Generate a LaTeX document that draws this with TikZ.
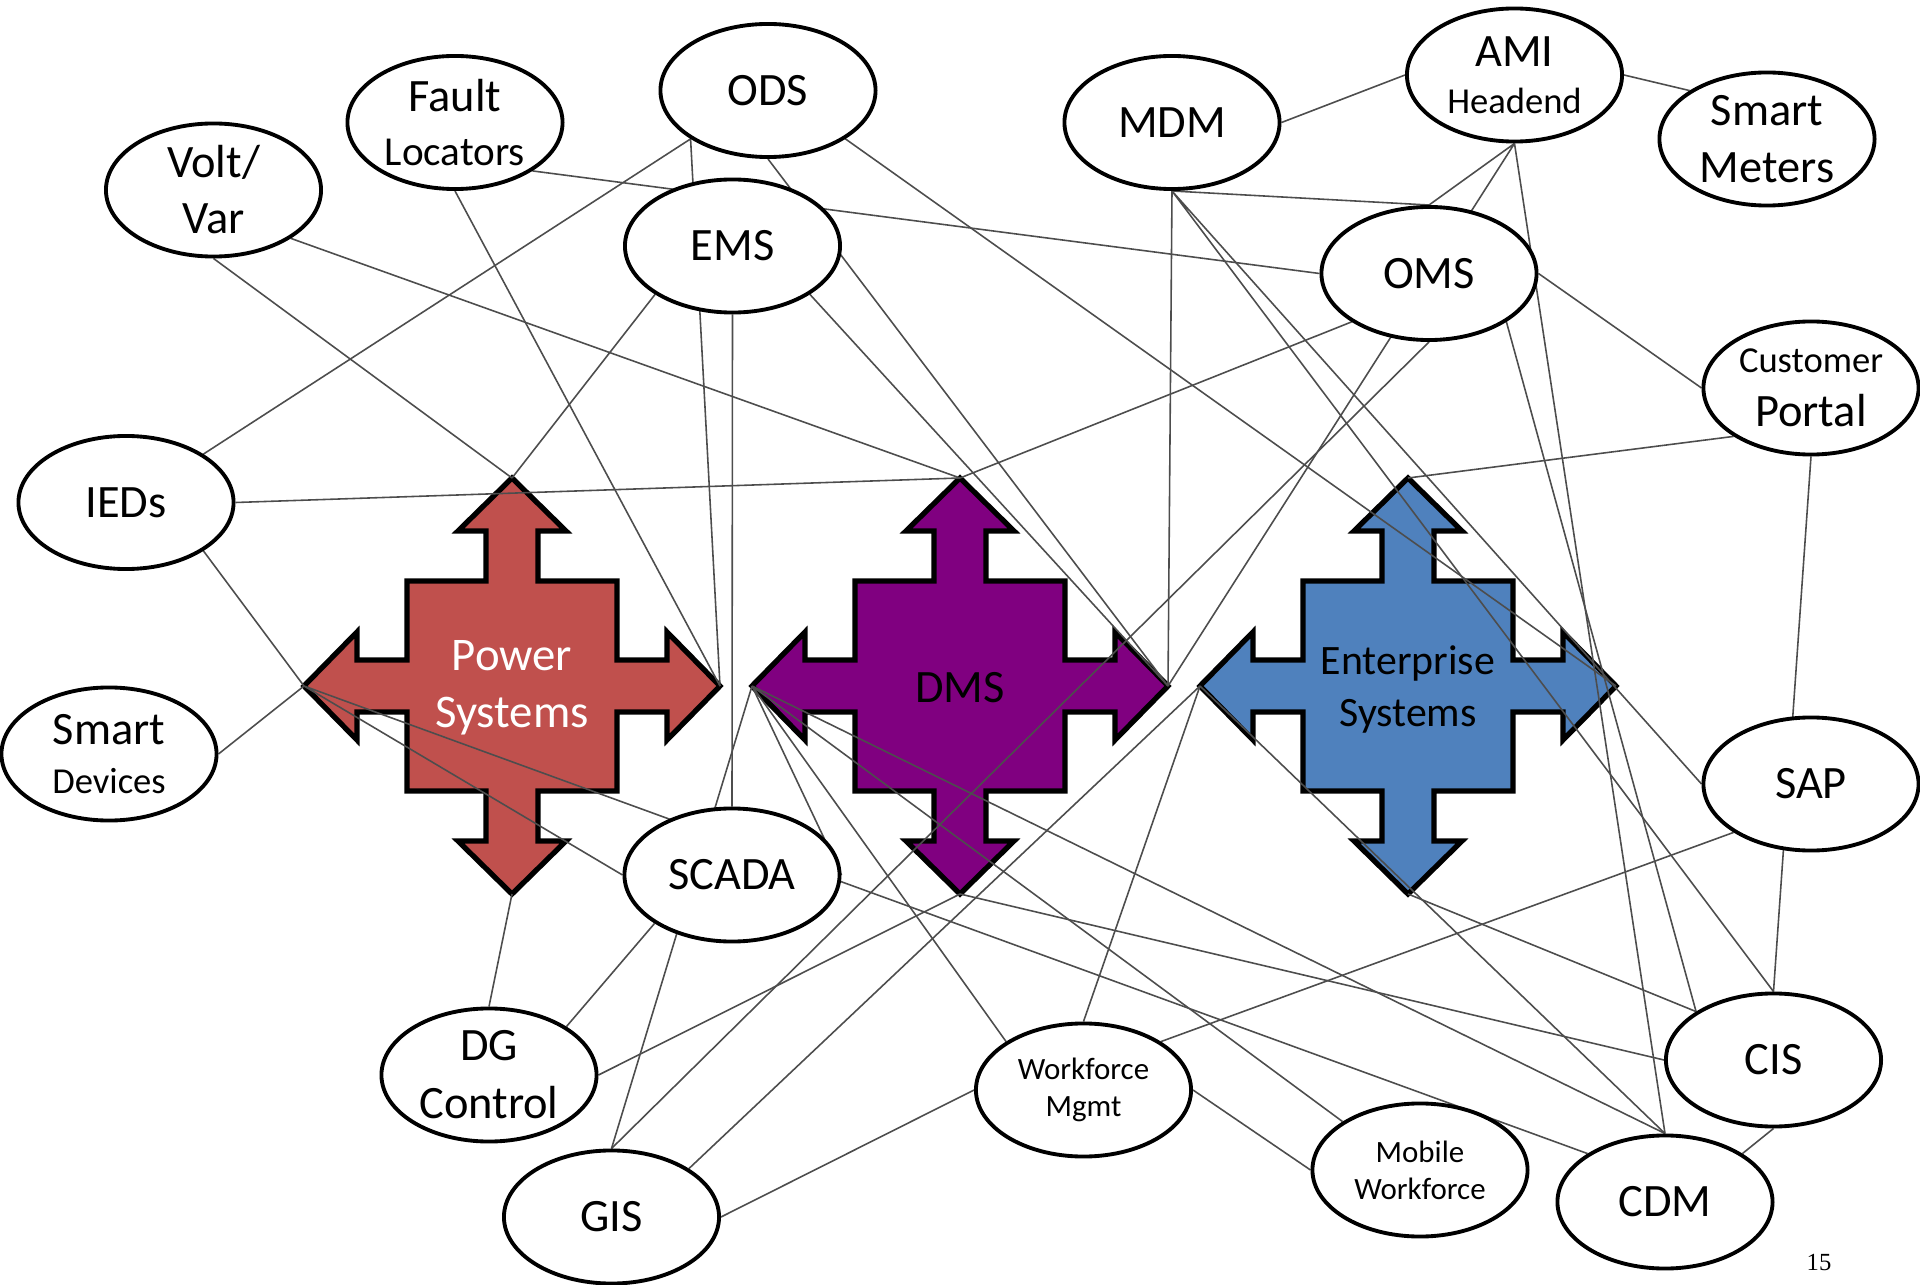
\documentclass[tikz,border=0pt]{standalone}
\usepackage{fontspec}
\setmainfont{Carlito}
\newfontfamily\pagenumfont{Liberation Serif}
\usetikzlibrary{shapes.geometric}

\definecolor{psred}{RGB}{192,80,77}
\definecolor{dmspurple}{RGB}{128,0,128}
\definecolor{esblue}{RGB}{79,129,189}
\definecolor{linkgray}{RGB}{77,77,77}

\pgfdeclarelayer{crosslayer}
\pgfdeclarelayer{linklayer}
\pgfsetlayers{crosslayer,linklayer,main}

\tikzset{
  sysnode/.style={ellipse, draw=black, line width=1.1pt, fill=white,
    minimum width=2.15cm, minimum height=1.33cm, inner sep=0pt, align=center,
    font=\fontsize{13.2}{16}\selectfont},
  twoline/.style={font=\fontsize{13.2}{#1}\selectfont},
  link/.style={draw=linkgray, line width=0.45pt},
  crossline/.style={draw=black, line width=1.5pt, line join=miter},
  crosslabel/.style={align=center, inner sep=0pt}
}

% 十字の矢印 (中心, 名前, 色)
\newcommand{\sysarrow}[3]{%
  \begin{scope}[shift={(#1)}]
    \draw[crossline, fill=#3] (0,-208) -- (54,-155) -- (26,-155) -- (26,-105)
      -- (105,-105) -- (105,-26) -- (155,-26) -- (155,-54) -- (208,0)
      -- (155,54) -- (155,26) -- (105,26) -- (105,105) -- (26,105)
      -- (26,155) -- (54,155) -- (0,208) -- (-54,155) -- (-26,155)
      -- (-26,105) -- (-105,105) -- (-105,26) -- (-155,26) -- (-155,54)
      -- (-208,0) -- (-155,-54) -- (-155,-26) -- (-105,-26) -- (-105,-105)
      -- (-26,-105) -- (-26,-155) -- (-54,-155) -- cycle;
    \coordinate (#2-n) at (0,-208);
    \coordinate (#2-s) at (0,208);
    \coordinate (#2-e) at (208,0);
    \coordinate (#2-w) at (-208,0);
  \end{scope}}

\begin{document}
\begin{tikzpicture}[x=0.01cm, y=-0.01cm]
  \useasboundingbox (0,0) rectangle (1920,1285);

  % 楕円のノード
  \node[sysnode, twoline=15.9] (volt) at (213.5,190) {Volt/\\Var};
  \node[sysnode, twoline=15.1] (fault) at (455,122.5) {Fault\\{\fontsize{11.7}{14}\selectfont Locators}};
  \node[sysnode] (ods) at (768,90.5) {ODS};
  \node[sysnode] (ems) at (732.5,246) {EMS};
  \node[sysnode] (mdm) at (1172,122.5) {MDM};
  \node[sysnode, twoline=13.4] (ami) at (1514.5,75) {AMI\\{\fontsize{10.4}{12}\selectfont Headend}};
  \node[sysnode, twoline=16.3] (meters) at (1767,139) {Smart\\Meters};
  \node[sysnode] (oms) at (1429,273.5) {OMS};
  \node[sysnode, twoline=15.5] (portal) at (1811,388) {{\fontsize{10.4}{12}\selectfont Customer}\\Portal};
  \node[sysnode] (ieds) at (126,502.5) {IEDs};
  \node[sysnode, twoline=13.7] (devices) at (109,754) {Smart\\{\fontsize{10.4}{12}\selectfont Devices}};
  \node[sysnode] (sap) at (1811,784) {SAP};
  \node[sysnode] (scada) at (732,875) {SCADA};
  \node[sysnode, twoline=16.5] (dg) at (489,1075) {DG\\Control};
  \node[sysnode] (gis) at (611.5,1217) {GIS};
  \node[sysnode, font=\fontsize{8.8}{10.7}\selectfont] (wfm) at (1083.5,1090) {Workforce\\Mgmt};
  \node[sysnode, font=\fontsize{8.8}{10.5}\selectfont] (mobile) at (1420,1170) {Mobile\\Workforce};
  \node[sysnode] (cdm) at (1665,1202) {CDM};
  \node[sysnode] (cis) at (1773.5,1060) {CIS};

  % 三つの十字
  \begin{pgfonlayer}{crosslayer}
    \sysarrow{512,686}{ps}{psred}
    \sysarrow{960,686}{dms}{dmspurple}
    \sysarrow{1408,686}{es}{esblue}
  \end{pgfonlayer}
  \node[crosslabel, text=white, font=\fontsize{13.3}{16.2}\selectfont] (pslabel) at (512,688) {Power\\Systems};
  \node[crosslabel, font=\fontsize{13.2}{16}\selectfont] (dmslabel) at (960,688) {DMS};
  \node[crosslabel, font=\fontsize{11.9}{14.8}\selectfont] (eslabel) at (1408,689) {Enterprise\\Systems};

  % ページ番号
  \node[font=\pagenumfont\fontsize{7}{8}\selectfont] (pagenum) at (1819,1262) {15};

  % 接続線
  \begin{pgfonlayer}{linklayer}
    % 上段の左側
    \draw[link] (volt.south) -- (ps-n) (volt.south east) -- (dms-n);
    \draw[link] (fault.south) -- (ps-e) (fault.south east) -- (oms.west);
    \draw[link] (ods.south west) -- (ieds.north east) (ods.south west) -- (ps-e)
      (ods.south) -- (dms-e) (ods.south east) -- (es-e);
    \draw[link] (ems.south west) -- (ps-n) (ems.south) -- (scada.north)
      (ems.south east) -- (dms-e);
    \draw[link] (ieds.east) -- (dms-n) (ieds.south east) -- (ps-w);
    \draw[link] (devices.east) -- (ps-w);
    % 上段の右側
    \draw[link] (mdm.east) -- (ami.west) (mdm.south) -- (oms.north)
      (mdm.south) -- (dms-e) (mdm.south) -- (sap.west) (mdm.south) -- (cis.north);
    \draw[link] (ami.east) -- (meters.north west) (ami.south) -- (oms.north)
      (ami.south) -- (dms-e) (ami.south) -- (cdm.north);
    \draw[link] (oms.east) -- (portal.west) (oms.south east) -- (cis.north west)
      (oms.south) -- (gis.north) (oms.south west) -- (dms-n);
    \draw[link] (portal.south west) -- (es-n) (portal.south) -- (cis.north);
    % 十字から
    \draw[link] (ps-w) -- (scada.west) (ps-w) -- (cdm.north west) (ps-s) -- (dg.north);
    \draw[link] (dms-w) -- (gis.north) (dms-w) -- (scada.east)
      (dms-w) -- (wfm.north west) (dms-w) -- (mobile.north west) (dms-w) -- (cdm.north);
    \draw[link] (dms-s) -- (dg.east) (dms-s) -- (cis.west);
    \draw[link] (es-w) -- (gis.north east) (es-w) -- (wfm.north) (es-w) -- (cdm.north);
    \draw[link] (es-s) -- (cis.north west);
    % 下段
    \draw[link] (scada.south west) -- (dg.north east);
    \draw[link] (gis.east) -- (wfm.west);
    \draw[link] (wfm.north east) -- (sap.south west) (wfm.east) -- (mobile.west);
    \draw[link] (cis.south) -- (cdm.north east);
  \end{pgfonlayer}
\end{tikzpicture}
\end{document}
